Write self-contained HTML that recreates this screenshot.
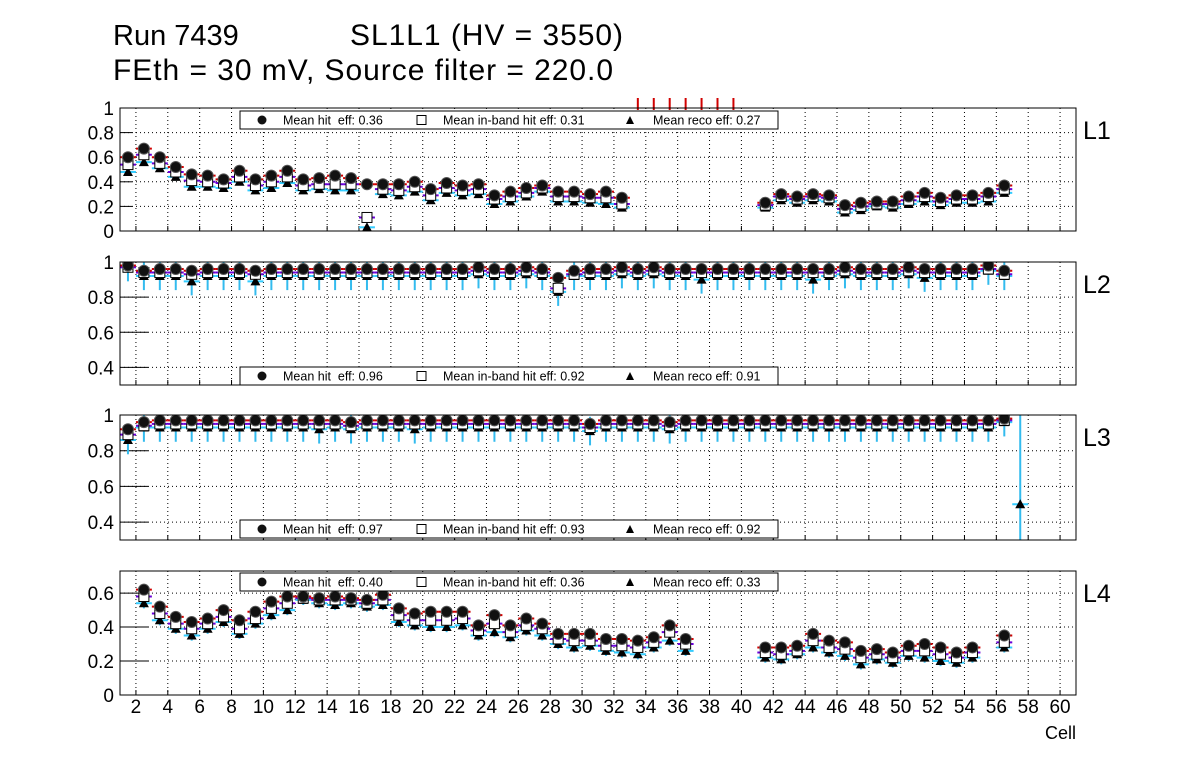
<!DOCTYPE html>
<html><head><meta charset="utf-8"><style>
body{margin:0;background:#fff;}
svg{display:block;font-family:"Liberation Sans",Arial,sans-serif;}
</style></head><body>
<svg id="c" width="1196" height="772" viewBox="0 0 1196 772">
<text x="113" y="45" font-size="29">Run 7439</text>
<text x="350" y="45" font-size="30" textLength="273">SL1L1 (HV = 3550)</text>
<text x="113" y="80" font-size="30" textLength="500">FEth = 30 mV, Source filter = 220.0</text>
<text x="1076" y="739" font-size="18" text-anchor="end">Cell</text>
</svg>
<script>
// ---- data ----
const xTicks = [2,4,6,8,10,12,14,16,18,20,22,24,26,28,30,32,34,36,38,40,42,44,46,48,50,52,54,56,58,60];
const panelNames = ["L1","L2","L3","L4"];
const meanHit = ["0.36","0.96","0.97","0.40"];
const meanBand = ["0.31","0.92","0.93","0.36"];
const meanReco = ["0.27","0.91","0.92","0.33"];
const yTicks1 = [0,0.2,0.4,0.6,0.8,1];
const yTicks2 = [0.4,0.6,0.8,1];
const yTicks4 = [0,0.2,0.4,0.6];

const cells1 = [1,2,3,4,5,6,7,8,9,10,11,12,13,14,15,16,17,18,19,20,21,22,23,24,25,26,27,28,29,30,31,32,41,42,43,44,45,46,47,48,49,50,51,52,53,54,55,56];
const hit1 = [0.60,0.67,0.60,0.52,0.46,0.45,0.42,0.49,0.42,0.45,0.49,0.42,0.43,0.45,0.43,0.38,0.38,0.38,0.40,0.34,0.39,0.37,0.38,0.29,0.32,0.35,0.37,0.32,0.32,0.30,0.32,0.27,0.23,0.30,0.28,0.30,0.29,0.21,0.23,0.24,0.24,0.28,0.31,0.27,0.29,0.29,0.31,0.37];
const band1 = [0.54,0.62,0.55,0.48,0.41,0.40,0.39,0.44,0.37,0.40,0.44,0.37,0.38,0.38,0.38,0.11,0.34,0.33,0.36,0.29,0.35,0.33,0.34,0.26,0.28,0.31,0.35,0.28,0.28,0.27,0.27,0.22,0.21,0.28,0.26,0.28,0.27,0.18,0.20,0.22,0.22,0.25,0.28,0.24,0.26,0.26,0.28,0.34];
const reco1 = [0.48,0.56,0.51,0.44,0.36,0.36,0.35,0.40,0.33,0.35,0.39,0.33,0.34,0.33,0.33,0.03,0.30,0.29,0.32,0.25,0.31,0.29,0.30,0.22,0.24,0.28,0.32,0.24,0.24,0.23,0.22,0.19,0.19,0.25,0.23,0.25,0.24,0.15,0.17,0.20,0.19,0.22,0.24,0.21,0.23,0.23,0.24,0.31];
const overflowCells1 = [33,34,35,36,37,38,39];

const cells2 = [1,2,3,4,5,6,7,8,9,10,11,12,13,14,15,16,17,18,19,20,21,22,23,24,25,26,27,28,29,30,31,32,33,34,35,36,37,38,39,40,41,42,43,44,45,46,47,48,49,50,51,52,53,54,55,56];
const hit2 = [0.98,0.95,0.96,0.96,0.95,0.96,0.96,0.96,0.95,0.96,0.96,0.96,0.96,0.96,0.96,0.96,0.96,0.96,0.96,0.96,0.96,0.96,0.97,0.96,0.96,0.97,0.96,0.91,0.95,0.96,0.96,0.97,0.96,0.97,0.96,0.96,0.96,0.96,0.96,0.96,0.96,0.96,0.96,0.96,0.96,0.97,0.96,0.96,0.96,0.97,0.96,0.96,0.96,0.96,0.98,0.95];
const band2 = [0.97,0.94,0.94,0.94,0.93,0.94,0.94,0.94,0.93,0.94,0.94,0.94,0.94,0.94,0.94,0.94,0.94,0.94,0.94,0.94,0.94,0.94,0.95,0.94,0.94,0.95,0.94,0.85,0.93,0.94,0.94,0.95,0.94,0.95,0.94,0.94,0.94,0.94,0.94,0.94,0.94,0.94,0.94,0.94,0.94,0.95,0.94,0.94,0.94,0.95,0.94,0.94,0.94,0.94,0.96,0.93];
const reco2 = [0.97,0.92,0.92,0.92,0.89,0.92,0.92,0.92,0.89,0.92,0.92,0.92,0.92,0.92,0.92,0.92,0.92,0.92,0.92,0.92,0.92,0.92,0.93,0.92,0.92,0.93,0.92,0.83,0.92,0.92,0.92,0.93,0.92,0.93,0.92,0.92,0.90,0.92,0.92,0.92,0.92,0.92,0.92,0.90,0.92,0.93,0.92,0.92,0.92,0.93,0.91,0.92,0.92,0.92,0.95,0.92];

const cells3 = [1,2,3,4,5,6,7,8,9,10,11,12,13,14,15,16,17,18,19,20,21,22,23,24,25,26,27,28,29,30,31,32,33,34,35,36,37,38,39,40,41,42,43,44,45,46,47,48,49,50,51,52,53,54,55,56];
const hit3 = [0.92,0.96,0.97,0.97,0.97,0.97,0.97,0.97,0.97,0.97,0.97,0.97,0.97,0.97,0.96,0.97,0.97,0.97,0.97,0.97,0.97,0.97,0.97,0.97,0.97,0.97,0.97,0.97,0.97,0.95,0.97,0.97,0.97,0.97,0.96,0.97,0.97,0.97,0.97,0.97,0.97,0.97,0.97,0.97,0.97,0.97,0.97,0.97,0.97,0.97,0.97,0.97,0.97,0.97,0.97,0.98];
const band3 = [0.89,0.94,0.95,0.95,0.95,0.95,0.95,0.95,0.95,0.95,0.95,0.95,0.95,0.95,0.94,0.95,0.95,0.95,0.95,0.95,0.95,0.95,0.95,0.95,0.95,0.95,0.95,0.95,0.95,0.93,0.95,0.95,0.95,0.95,0.94,0.95,0.95,0.95,0.95,0.95,0.95,0.95,0.95,0.95,0.95,0.95,0.95,0.95,0.95,0.95,0.95,0.95,0.95,0.95,0.95,0.97];
const reco3 = [0.86,0.93,0.93,0.93,0.93,0.93,0.93,0.93,0.93,0.93,0.93,0.93,0.92,0.93,0.92,0.93,0.93,0.93,0.92,0.93,0.93,0.93,0.93,0.93,0.93,0.93,0.93,0.93,0.93,0.91,0.93,0.93,0.93,0.93,0.92,0.93,0.93,0.93,0.93,0.93,0.93,0.93,0.93,0.93,0.93,0.93,0.93,0.93,0.93,0.93,0.93,0.93,0.93,0.93,0.93,0.96];
const extraCell3 = [57];
const extraReco3 = [0.5];

const cells4 = [2,3,4,5,6,7,8,9,10,11,12,13,14,15,16,17,18,19,20,21,22,23,24,25,26,27,28,29,30,31,32,33,34,35,36,41,42,43,44,45,46,47,48,49,50,51,52,53,54,56];
const hit4 = [0.62,0.52,0.46,0.43,0.45,0.50,0.44,0.49,0.55,0.58,0.58,0.57,0.58,0.57,0.56,0.59,0.51,0.48,0.49,0.49,0.49,0.41,0.47,0.41,0.45,0.42,0.36,0.36,0.36,0.33,0.33,0.32,0.34,0.41,0.33,0.28,0.28,0.29,0.36,0.32,0.31,0.26,0.27,0.25,0.29,0.30,0.28,0.25,0.28,0.35];
const band4 = [0.58,0.48,0.42,0.39,0.42,0.46,0.39,0.45,0.51,0.54,0.57,0.56,0.56,0.56,0.54,0.56,0.47,0.44,0.44,0.44,0.45,0.38,0.42,0.37,0.41,0.39,0.33,0.32,0.32,0.29,0.29,0.28,0.31,0.37,0.30,0.25,0.24,0.26,0.32,0.28,0.27,0.22,0.24,0.22,0.26,0.26,0.24,0.22,0.25,0.31];
const reco4 = [0.54,0.44,0.39,0.35,0.39,0.43,0.36,0.42,0.47,0.50,0.56,0.54,0.53,0.54,0.52,0.53,0.43,0.41,0.40,0.40,0.41,0.35,0.37,0.34,0.38,0.35,0.30,0.28,0.29,0.26,0.25,0.24,0.28,0.32,0.26,0.22,0.21,0.24,0.28,0.25,0.23,0.18,0.21,0.19,0.23,0.22,0.20,0.19,0.22,0.28];

// ---- layout ----
const NS = "http://www.w3.org/2000/svg";
const svg = document.getElementById("c");
const X0 = 120, X1 = 1076, XMIN = 1, XMAX = 61;
function xs(c){ return X0 + (c - XMIN) * (X1 - X0) / (XMAX - XMIN); }
const HW = (X1 - X0) / (XMAX - XMIN) / 2;
function el(tag, attrs, parent){
  const e = document.createElementNS(NS, tag);
  for (const k in attrs) e.setAttribute(k, attrs[k]);
  (parent || svg).appendChild(e);
  return e;
}
const panels = [
  {top:108,bot:231,ymin:0,ymax:1,ticks:yTicks1,cells:cells1,hit:hit1,band:band1,reco:reco1,legY:111,eh:0.03,er:0.03,solidTick:false},
  {top:262,bot:385,ymin:0.3,ymax:1,ticks:yTicks2,cells:cells2,hit:hit2,band:band2,reco:reco2,legY:367,eh:0.02,er:0.08,solidTick:true},
  {top:415,bot:540,ymin:0.3,ymax:1,ticks:yTicks2,cells:cells3,hit:hit3,band:band3,reco:reco3,legY:520,eh:0.02,er:0.08,solidTick:true},
  {top:571,bot:695,ymin:0,ymax:0.73,ticks:yTicks4,cells:cells4,hit:hit4,band:band4,reco:reco4,legY:573,eh:0.025,er:0.03,solidTick:true}
];
panels.forEach((p, i) => {
  const g = el("g", {});
  
  
  const ys = v => p.bot - (v - p.ymin) * (p.bot - p.top) / (p.ymax - p.ymin);
  const cid = "clip" + i;
  const cp = el("clipPath", {id: cid}, g);
  el("rect", {x: X0, y: p.top, width: X1 - X0, height: p.bot - p.top}, cp);
  xTicks.forEach(t => {
    const gl = el("line", {x1: xs(t), x2: xs(t), y1: p.top, y2: p.bot, stroke: "#000", "stroke-width": 1, "stroke-dasharray": "1,3"}, g);
    
    
    el("line", {x1: xs(t), x2: xs(t), y1: p.bot, y2: p.bot - 5, stroke: "#000"}, g);
  });
  p.ticks.forEach(t => {
    const y = ys(t);
    if (t > p.ymin && t < p.ymax) {
      const gl = el("line", {x1: X0, x2: X1, y1: y, y2: y, stroke: "#000", "stroke-width": 1, "stroke-dasharray": "1,3"}, g);
      
      
    }
    el("line", {x1: X0, x2: X0 + (p.solidTick ? 28 : 12), y1: y, y2: y, stroke: "#000"}, g);
    const tl = el("text", {x: 114, y: y + 7, "font-size": 19, "text-anchor": "end"}, g);
    tl.textContent = String(t);
    
    
  });
  const dg = el("g", {"clip-path": "url(#" + cid + ")"}, g);
  p.cells.forEach((c, k) => {
    const xc = xs(c + 0.5);
    const yh = ys(p.hit[k]), yb = ys(p.band[k]), yr = ys(p.reco[k]);
    el("line", {x1: xc, x2: xc, y1: ys(p.reco[k] - p.er), y2: ys(Math.min(p.reco[k] + p.er, p.ymax)), stroke: "#33bbee", "stroke-width": 2}, dg);
    el("line", {x1: xc - HW, x2: xc + HW, y1: yr, y2: yr, stroke: "#33ccff", "stroke-width": 2}, dg);
    el("line", {x1: xc - HW, x2: xc + HW, y1: yb, y2: yb, stroke: "#6a00d8", "stroke-width": 2, "stroke-dasharray": "4,2"}, dg);
    el("line", {x1: xc - HW, x2: xc + HW, y1: yh, y2: yh, stroke: "#d00000", "stroke-width": 2}, dg);
    el("line", {x1: xc, x2: xc, y1: ys(p.hit[k] - p.eh), y2: ys(p.hit[k] + p.eh), stroke: "#d00000", "stroke-width": 2}, dg);
    const tri = el("path", {d: `M${xc - 5},${yr + 4} L${xc + 5},${yr + 4} L${xc},${yr - 5} Z`, fill: "#000"}, dg);
    
    
    const sq = el("rect", {x: xc - 5, y: yb - 5, width: 10, height: 10, fill: "#fff", stroke: "#000", "stroke-width": 1}, dg);
    
    
    const ci = el("circle", {cx: xc, cy: yh, r: 5.5, fill: "#111", stroke: "#555", "stroke-width": 1}, dg);
    
    
  });
  if (i === 2) {
    extraCell3.forEach((c, k) => {
      const xc = xs(c + 0.5), yr = ys(extraReco3[k]);
      el("line", {x1: xc, x2: xc, y1: p.bot, y2: p.top, stroke: "#33bbee", "stroke-width": 2}, dg);
      el("line", {x1: xc - HW, x2: xc + HW, y1: yr, y2: yr, stroke: "#33ccff", "stroke-width": 2}, dg);
      const tri = el("path", {d: `M${xc - 5},${yr + 4} L${xc + 5},${yr + 4} L${xc},${yr - 5} Z`, fill: "#000"}, dg);
      
      
    });
  }
  if (i === 0) {
    overflowCells1.forEach(c => {
      const xc = xs(c + 0.5);
      el("line", {x1: xc, x2: xc, y1: p.top - 10, y2: p.top + 2, stroke: "#d00000", "stroke-width": 2}, g);
    });
  }
  const fr = el("rect", {x: X0, y: p.top, width: X1 - X0, height: p.bot - p.top, fill: "none", stroke: "#000", "stroke-width": 1}, g);
  
  
  const lg = el("g", {}, g);
  
  
  const ly = p.legY;
  el("rect", {x: 240, y: ly, width: 538, height: 18, fill: "#fff", stroke: "#000", "stroke-width": 1}, lg);
  el("circle", {cx: 262, cy: ly + 9, r: 4.5, fill: "#111"}, lg);
  el("rect", {x: 417, y: ly + 4.5, width: 9, height: 9, fill: "#fff", stroke: "#000"}, lg);
  el("path", {d: `M${626},${ly + 13} L${634},${ly + 13} L${630},${ly + 5} Z`, fill: "#000"}, lg);
  const t1 = el("text", {x: 283, y: ly + 13.5, "font-size": 12.5}, lg); t1.textContent = "Mean hit  eff: " + meanHit[i];
   
  t1.setAttribute('xml:space', 'preserve'); t1.style.whiteSpace = 'pre';
  const t2 = el("text", {x: 443, y: ly + 13.5, "font-size": 12.5}, lg); t2.textContent = "Mean in-band hit eff: " + meanBand[i];
   
  const t3 = el("text", {x: 653, y: ly + 13.5, "font-size": 12.5}, lg); t3.textContent = "Mean reco eff: " + meanReco[i];
   
  const pl = el("text", {x: 1083, y: p.top + 31, "font-size": 25}, g);
  pl.textContent = panelNames[i];
  
  
  if (i === 3) {
    xTicks.forEach(t => {
      const tl = el("text", {x: xs(t), y: 713, "font-size": 19, "text-anchor": "middle"}, g);
      tl.textContent = String(t);
      
      
    });
  }
});
</script>
</body></html>
